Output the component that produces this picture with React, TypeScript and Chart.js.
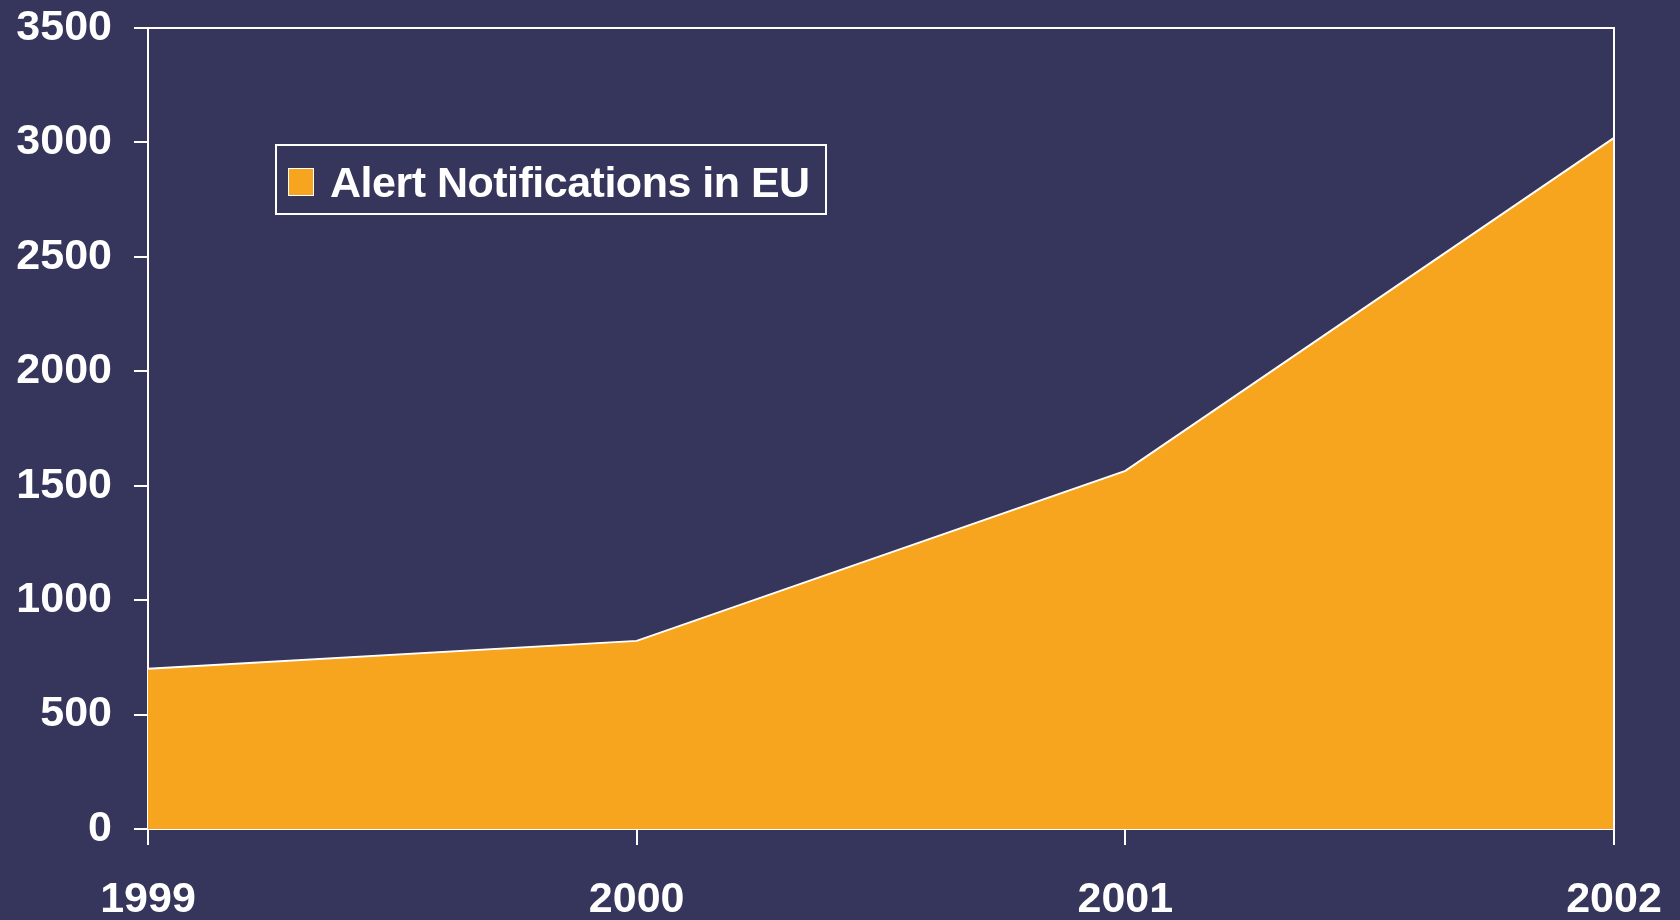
import React, { useEffect, useRef } from "react";
import { Chart, registerables } from "chart.js";

Chart.register(...registerables);

const categories = ["1999", "2000", "2001", "2002"];
const alertValues = [700, 822, 1565, 3020];
const seriesLabel = "Alert Notifications in EU";
const yMin = 0;
const yMax = 3500;
const yStep = 500;

const BG = "#36355B";
const ORANGE = "#F7A51E";
const FONT = "'Liberation Sans', Arial, Helvetica, sans-serif";

const frameBorder = {
  id: "frameBorder",
  afterDatasetsDraw(chart: any) {
    const { ctx, chartArea } = chart;
    ctx.save();
    ctx.strokeStyle = "#ffffff";
    ctx.lineWidth = 2;
    ctx.beginPath();
    ctx.moveTo(chartArea.left, chartArea.top);
    ctx.lineTo(chartArea.right, chartArea.top);
    ctx.lineTo(chartArea.right, chartArea.bottom);
    ctx.stroke();
    ctx.restore();
  },
};

export default function App() {
  const ref = useRef<HTMLCanvasElement | null>(null);

  useEffect(() => {
    document.body.style.margin = "0";
    const canvas = ref.current;
    if (!canvas) return;
    const chart = new Chart(canvas, {
      type: "line",
      data: {
        labels: categories,
        datasets: [
          {
            label: seriesLabel,
            data: alertValues,
            borderColor: "#ffffff",
            borderWidth: 2,
            backgroundColor: ORANGE,
            fill: "origin",
            pointRadius: 0,
            tension: 0,
          },
        ],
      },
      plugins: [frameBorder],
      options: {
        animation: false,
        responsive: false,
        devicePixelRatio: 1,
        layout: { padding: { top: 28, right: 66, left: 0, bottom: 0 } },
        plugins: {
          legend: { display: false },
          tooltip: { enabled: false },
        },
        scales: {
          x: {
            type: "category",
            offset: false,
            grid: {
              display: true,
              drawOnChartArea: false,
              drawTicks: true,
              tickLength: 16,
              color: "#ffffff",
              lineWidth: 2,
            },
            border: { display: true, color: "#ffffff", width: 2 },
            ticks: {
              color: "#ffffff",
              padding: 29,
              maxRotation: 0,
              autoSkip: false,
              font: { family: FONT, size: 43, weight: "bold", lineHeight: 1.2 },
            },
            afterFit: (scale: any) => {
              scale.height = 91;
              scale.paddingLeft = 0;
              scale.paddingRight = 0;
            },
          },
          y: {
            min: yMin,
            max: yMax,
            grid: {
              display: true,
              drawOnChartArea: false,
              drawTicks: true,
              tickLength: 14,
              color: "#ffffff",
              lineWidth: 2,
            },
            border: { display: true, color: "#ffffff", width: 2 },
            ticks: {
              stepSize: yStep,
              color: "#ffffff",
              padding: 22,
              callback: (v: any) => String(v),
              font: { family: FONT, size: 43, weight: "bold", lineHeight: 1.2 },
            },
            afterFit: (scale: any) => {
              scale.width = 148;
              scale.paddingTop = 0;
              scale.paddingBottom = 0;
            },
          },
        },
      },
    });
    return () => chart.destroy();
  }, []);

  return (
    <div
      style={{
        position: "fixed",
        left: 0,
        top: 0,
        width: 1680,
        height: 920,
        background: BG,
        overflow: "hidden",
      }}
    >
      <canvas ref={ref} width={1680} height={920} style={{ display: "block" }} />
      <div
        style={{
          position: "absolute",
          left: 275,
          top: 144,
          width: 548,
          height: 67,
          border: "2px solid #ffffff",
          display: "flex",
          alignItems: "center",
          boxSizing: "content-box",
        }}
      >
        <div
          style={{
            width: 24,
            height: 26,
            marginLeft: 11,
            marginTop: 4,
            background: ORANGE,
            border: "1px solid #ffffff",
            flex: "none",
          }}
        />
        <span
          style={{
            marginLeft: 16,
            marginTop: 6,
            color: "#ffffff",
            fontFamily: FONT,
            fontWeight: "bold",
            fontSize: 43,
            letterSpacing: "-0.5px",
            lineHeight: 1,
            whiteSpace: "nowrap",
          }}
        >
          {seriesLabel}
        </span>
      </div>
    </div>
  );
}
